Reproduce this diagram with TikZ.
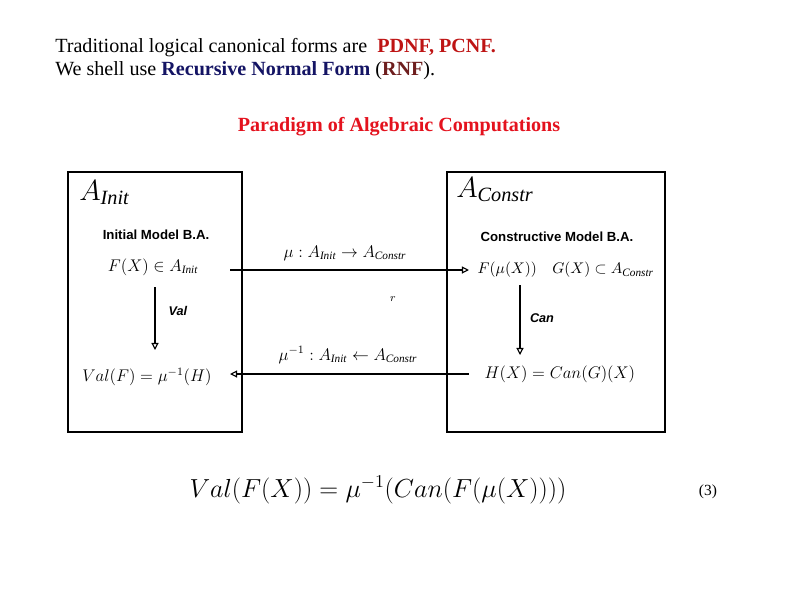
\documentclass[tikz,border=0pt]{standalone}
\usepackage{amsmath,amssymb}
\usepackage{fontspec}
\setmainfont{Liberation Serif}
\setsansfont{Liberation Sans}
\usetikzlibrary{arrows.meta,positioning}
\definecolor{pdnfred}{RGB}{190,20,20}
\definecolor{rnfnavy}{RGB}{20,20,100}
\definecolor{rnfbrown}{RGB}{110,30,30}
\definecolor{titlered}{RGB}{228,18,30}

\begin{document}
\begin{tikzpicture}[x=0.025cm,y=-0.025cm,
    modelbox/.style={draw,line width=1pt,inner sep=0pt},
    boxtitle/.style={font=\sffamily\bfseries\fontsize{9.4}{11}\selectfont},
    formula/.style={font=\fontsize{12}{14}\selectfont,inner sep=1pt},
    maplabel/.style={font=\sffamily\bfseries\itshape\fontsize{9}{11}\selectfont},
    maparrow/.style={line width=0.8pt,-{Triangle[open,length=5pt,width=5pt]}}]
    \useasboundingbox (0,0) rectangle (800,600);
    \node[anchor=base west,inner sep=0pt,font=\fontsize{14.3}{17}\selectfont] (line1) at (55,52)
      {Traditional logical canonical forms are\ \ \textcolor{pdnfred}{\textbf{PDNF, PCNF.}}};
    \node[anchor=base west,inner sep=0pt,font=\fontsize{14.3}{17}\selectfont] (line2) at (55,75)
      {We shell use \textcolor{rnfnavy}{\textbf{Recursive Normal Form}} (\textcolor{rnfbrown}{\textbf{RNF}}).};
    \node[anchor=base,inner sep=0pt,text=titlered,font=\bfseries\fontsize{14.3}{17}\selectfont] (title) at (399,131)
      {Paradigm of Algebraic Computations};
    % the two models
    \node[modelbox,minimum width=4.35cm,minimum height=6.5cm] (initbox) at (155,302) {};
    \node[modelbox,minimum width=5.45cm,minimum height=6.5cm] (constrbox) at (556,302) {};
    \node[anchor=base west,inner sep=0pt,font=\fontsize{20.74}{24}\selectfont] (ainit) at (79,200) {$A_{\mathit{Init}}$};
    \node[anchor=base west,inner sep=0pt,font=\fontsize{20.74}{24}\selectfont] (aconstr) at (456,197) {$A_{\mathit{Constr}}$};
    \node[boxtitle] (inittitle) at (156,235) {Initial Model B.A.};
    \node[boxtitle] (constrtitle) at (557,237) {Constructive Model B.A.};
    \node[formula] (fx) at (153,267) {$F(X)\in A_{\mathit{Init}}$};
    \node[formula] (valf) at (147,377) {$Val(F)=\mu^{-1}(H)$};
    \node[formula,anchor=west,font=\fontsize{10.95}{13}\selectfont] (fmu) at (476,270) {$F(\mu(X))\quad G(X)\subset A_{\mathit{Constr}}$};
    \node[formula,anchor=west] (hx) at (483,374) {$H(X)=Can(G)(X)$};
    % maps between them
    \node[formula] (mulabel) at (345,253) {$\mu : A_{\mathit{Init}}\to A_{\mathit{Constr}}$};
    \node[formula] (muinvlabel) at (348,355) {$\mu^{-1} : A_{\mathit{Init}}\leftarrow A_{\mathit{Constr}}$};
    \node[font=\fontsize{8}{9}\selectfont] (r) at (393,299) {$r$};
    \coordinate (mustart) at (230,270);
    \coordinate (muinvend) at (230,374);
    \draw[maparrow,shorten >=5pt] (mustart) -- (fmu.west);
    \draw[maparrow,shorten <=10pt] (hx.west) -- (muinvend);
    \coordinate (valstart) at (155,287);
    \coordinate (valend) at (155,350);
    \coordinate (canstart) at (520,285);
    \coordinate (canend) at (520,355);
    \draw[maparrow] (valstart) -- (valend);
    \draw[maparrow] (canstart) -- (canend);
    \node[maplabel] (val) at (178,311) {Val};
    \node[maplabel] (can) at (542,318) {Can};
    \node[font=\fontsize{17.28}{22}\selectfont] (maineq) at (378,490)
      {\scalebox{1.075}{$Val(F(X))=\mu^{-1}(Can(F(\mu(X))))$}};
    \node[font=\fontsize{11}{13}\selectfont] (eqnum) at (708,492) {(3)};
  \end{tikzpicture}
\end{document}
